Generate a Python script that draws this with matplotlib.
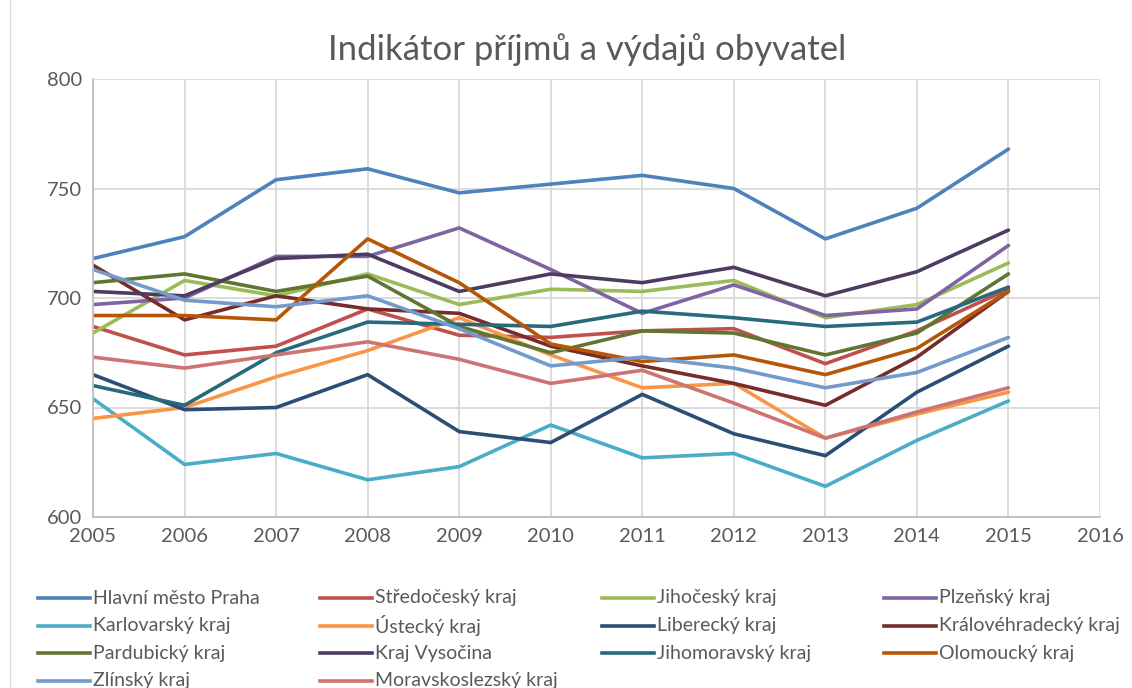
import matplotlib
matplotlib.use('Agg')
import matplotlib.pyplot as plt
from matplotlib.lines import Line2D

plt.rcParams['font.family'] = ['Lato', 'DejaVu Sans']

years = [2005, 2006, 2007, 2008, 2009, 2010, 2011, 2012, 2013, 2014, 2015]

regions = ['Hlavní město Praha', 'Středočeský kraj', 'Jihočeský kraj', 'Plzeňský kraj',
           'Karlovarský kraj', 'Ústecký kraj', 'Liberecký kraj', 'Královéhradecký kraj',
           'Pardubický kraj', 'Kraj Vysočina', 'Jihomoravský kraj', 'Olomoucký kraj',
           'Zlínský kraj', 'Moravskoslezský kraj']

praha = [718, 728, 754, 759, 748, 752, 756, 750, 727, 741, 768]
stredocesky = [687, 674, 678, 695, 683, 682, 685, 686, 670, 685, 704]
jihocesky = [684, 708, 701, 711, 697, 704, 703, 708, 691, 697, 716]
plzensky = [697, 700, 719, 719, 732, 713, 693, 706, 692, 695, 724]
karlovarsky = [654, 624, 629, 617, 623, 642, 627, 629, 614, 635, 653]
ustecky = [645, 650, 664, 676, 691, 674, 659, 661, 636, 647, 657]
liberecky = [665, 649, 650, 665, 639, 634, 656, 638, 628, 657, 678]
kralovehradecky = [715, 690, 701, 695, 693, 678, 669, 661, 651, 673, 703]
pardubicky = [707, 711, 703, 710, 687, 675, 685, 684, 674, 684, 711]
vysocina = [703, 701, 718, 720, 703, 711, 707, 714, 701, 712, 731]
jihomoravsky = [660, 651, 675, 689, 688, 687, 694, 691, 687, 689, 705]
olomoucky = [692, 692, 690, 727, 707, 679, 671, 674, 665, 677, 703]
zlinsky = [713, 699, 696, 701, 686, 669, 673, 668, 659, 666, 682]
moravskoslezsky = [673, 668, 674, 680, 672, 661, 667, 652, 636, 648, 659]

series = [praha, stredocesky, jihocesky, plzensky, karlovarsky, ustecky, liberecky,
          kralovehradecky, pardubicky, vysocina, jihomoravsky, olomoucky, zlinsky,
          moravskoslezsky]

colors = ['#4F81BD', '#C0504D', '#9BBB59', '#8064A2', '#4BACC6', '#F79646', '#2C4D75',
          '#772C2A', '#5F7530', '#4D3B62', '#276A7C', '#B65708', '#729ACA', '#CD7371']

W, H = 1132, 688
fig = plt.figure(figsize=(W / 100, H / 100), dpi=100)
ax = fig.add_axes([93 / W, 1 - 517 / H, (1100 - 93) / W, (517 - 79) / H])

for vals, c, name in zip(series, colors, regions):
    ax.plot(years, vals, color=c, lw=2.6, label=name, solid_capstyle='round')

ax.set_xlim(2005, 2016)
ax.set_ylim(600, 800)
ax.set_xticks(range(2005, 2017))
ax.set_yticks(range(600, 801, 50))
ax.grid(True, color='#D9D9D9', lw=1.3)
ax.set_axisbelow(True)
for s in ['top', 'right']:
    ax.spines[s].set_visible(False)
for s in ['left', 'bottom']:
    ax.spines[s].set_color('#BFBFBF')
    ax.spines[s].set_linewidth(1.3)
ax.tick_params(length=0, labelsize=14.5, labelcolor='#595959', pad=8)

fig.text(587 / W, 1 - 50 / H, 'Indikátor příjmů a výdajů obyvatel',
         ha='center', va='center', fontsize=25, color='#595959')

# legend, filled row by row like Excel does
for i, (name, c) in enumerate(zip(regions, colors)):
    row, col = divmod(i, 4)
    x0 = (38 + col * 282) / W
    y0 = 1 - (598 + row * 27.5) / H
    fig.add_artist(Line2D([x0, x0 + 52 / W], [y0, y0], color=c, lw=2.6,
                          transform=fig.transFigure))
    fig.text(x0 + 55 / W, y0, name, ha='left', va='center', fontsize=14, color='#595959')

# chart border
fig.add_artist(Line2D([10 / W, 10 / W], [0, 1], color='#D9D9D9', lw=1,
                      transform=fig.transFigure))

fig.savefig('out.png', dpi=100)
